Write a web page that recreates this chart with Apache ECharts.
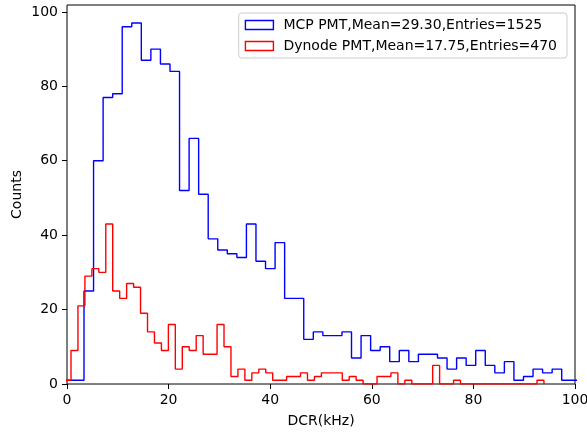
<!DOCTYPE html>
<html>
<head>
<meta charset="utf-8">
<script src="https://cdn.jsdelivr.net/npm/echarts@6/dist/echarts.min.js"></script>
<style>
  html, body { margin: 0; padding: 0; background: #fff; }
  #chart { width: 587px; height: 434px; }
</style>
</head>
<body>
<div id="chart"></div>
<script>
  // MCP PMT histogram (blue): first bin left edge, bin width (kHz), counts
  const mcpName = 'MCP PMT,Mean=29.30,Entries=1525';
  const mcpStart = -0.415;
  const mcpWidth = 1.8807;
  const mcpCounts = [1, 1, 25, 60, 77, 78, 96, 97, 87, 90, 86, 84, 52, 66, 51, 39, 36, 35, 34, 43,
    33, 31, 38, 23, 23, 12, 14, 13, 13, 14, 7, 13, 9, 10, 6, 9, 6, 8, 8, 7,
    4, 7, 5, 9, 5, 3, 6, 1, 2, 4, 3, 4, 1, 1];

  // Dynode PMT histogram (red)
  const dynName = 'Dynode PMT,Mean=17.75,Entries=470';
  const dynStart = -0.582;
  const dynWidth = 1.3691;
  const dynCounts = [1, 9, 21, 29, 31, 30, 43, 25, 23, 27, 26, 19, 14, 11, 9, 16, 4, 10, 9, 13,
    8, 8, 16, 10, 2, 4, 1, 3, 4, 3, 1, 1, 2, 2, 3, 1, 2, 3, 3, 3,
    1, 2, 1, 0, 0, 2, 2, 3, 0, 1, 0, 0, 0, 5, 0, 0, 1, 0, 0, 0,
    0, 0, 0, 0, 0, 0, 0, 0, 1];

  const xTicks = [0, 20, 40, 60, 80, 100];
  const yTicks = [0, 20, 40, 60, 80, 100];

  const font = 'DejaVu Sans';

  // outline of a step histogram: up from the baseline, across each bin, back down
  function stepPoints(start, width, counts) {
    let pts = [[start, 0]];
    counts.forEach(function (c, i) {
      pts.push([start + i * width, c]);
    });
    pts.push([start + counts.length * width, 0]);
    return pts;
  }

  const chart = echarts.init(document.getElementById('chart'), null, { renderer: 'canvas' });

  const option = {
    animation: false,
    backgroundColor: '#fff',
    grid: {
      left: 67, right: 12, top: 5, bottom: 50,
      outerBoundsMode: 'none',
      show: true, borderColor: '#000', borderWidth: 1, backgroundColor: 'transparent'
    },
    legend: {
      orient: 'vertical',
      right: 20,
      top: 13,
      padding: [5, 10, 5, 6],
      itemWidth: 28,
      itemHeight: 9,
      itemGap: 7,
      backgroundColor: 'rgba(255,255,255,0.8)',
      borderColor: '#cccccc',
      borderWidth: 1,
      borderRadius: 3,
      textStyle: { fontFamily: font, fontSize: 14, color: '#000', padding: [0, 0, 0, 5] },
      data: [
        { name: mcpName, icon: 'rect', itemStyle: { color: 'rgba(0,0,0,0)', borderColor: '#0000ff', borderWidth: 1.4 } },
        { name: dynName, icon: 'rect', itemStyle: { color: 'rgba(0,0,0,0)', borderColor: '#ff0000', borderWidth: 1.4 } }
      ]
    },
    xAxis: {
      type: 'value',
      min: 0, max: 100, interval: 20,
      name: 'DCR(kHz)',
      nameLocation: 'middle',
      nameGap: 30,
      nameMoveOverlap: false,
      nameTextStyle: { fontFamily: font, fontSize: 14, color: '#000' },
      axisLine: { show: false },
      axisTick: { show: true, length: 5, lineStyle: { color: '#000' }, customValues: xTicks },
      axisLabel: { fontFamily: font, fontSize: 14, color: '#000', margin: 9, customValues: xTicks },
      splitLine: { show: false }
    },
    yAxis: {
      type: 'value',
      min: 0, max: 101.85, interval: 20,
      name: 'Counts',
      nameLocation: 'middle',
      nameGap: 43,
      nameMoveOverlap: false,
      nameTextStyle: { fontFamily: font, fontSize: 14, color: '#000' },
      axisLine: { show: false },
      axisTick: { show: true, length: 5, lineStyle: { color: '#000' }, customValues: yTicks },
      axisLabel: { fontFamily: font, fontSize: 14, color: '#000', margin: 9, customValues: yTicks },
      splitLine: { show: false }
    },
    series: [
      {
        name: mcpName,
        type: 'line',
        step: 'end',
        symbol: 'none',
        clip: true,
        color: '#0000ff',
        lineStyle: { color: '#0000ff', width: 1.4 },
        data: stepPoints(mcpStart, mcpWidth, mcpCounts)
      },
      {
        name: dynName,
        type: 'line',
        step: 'end',
        symbol: 'none',
        clip: true,
        color: '#ff0000',
        lineStyle: { color: '#ff0000', width: 1.4 },
        data: stepPoints(dynStart, dynWidth, dynCounts)
      }
    ]
  };

  chart.setOption(option);
</script>
</body>
</html>
